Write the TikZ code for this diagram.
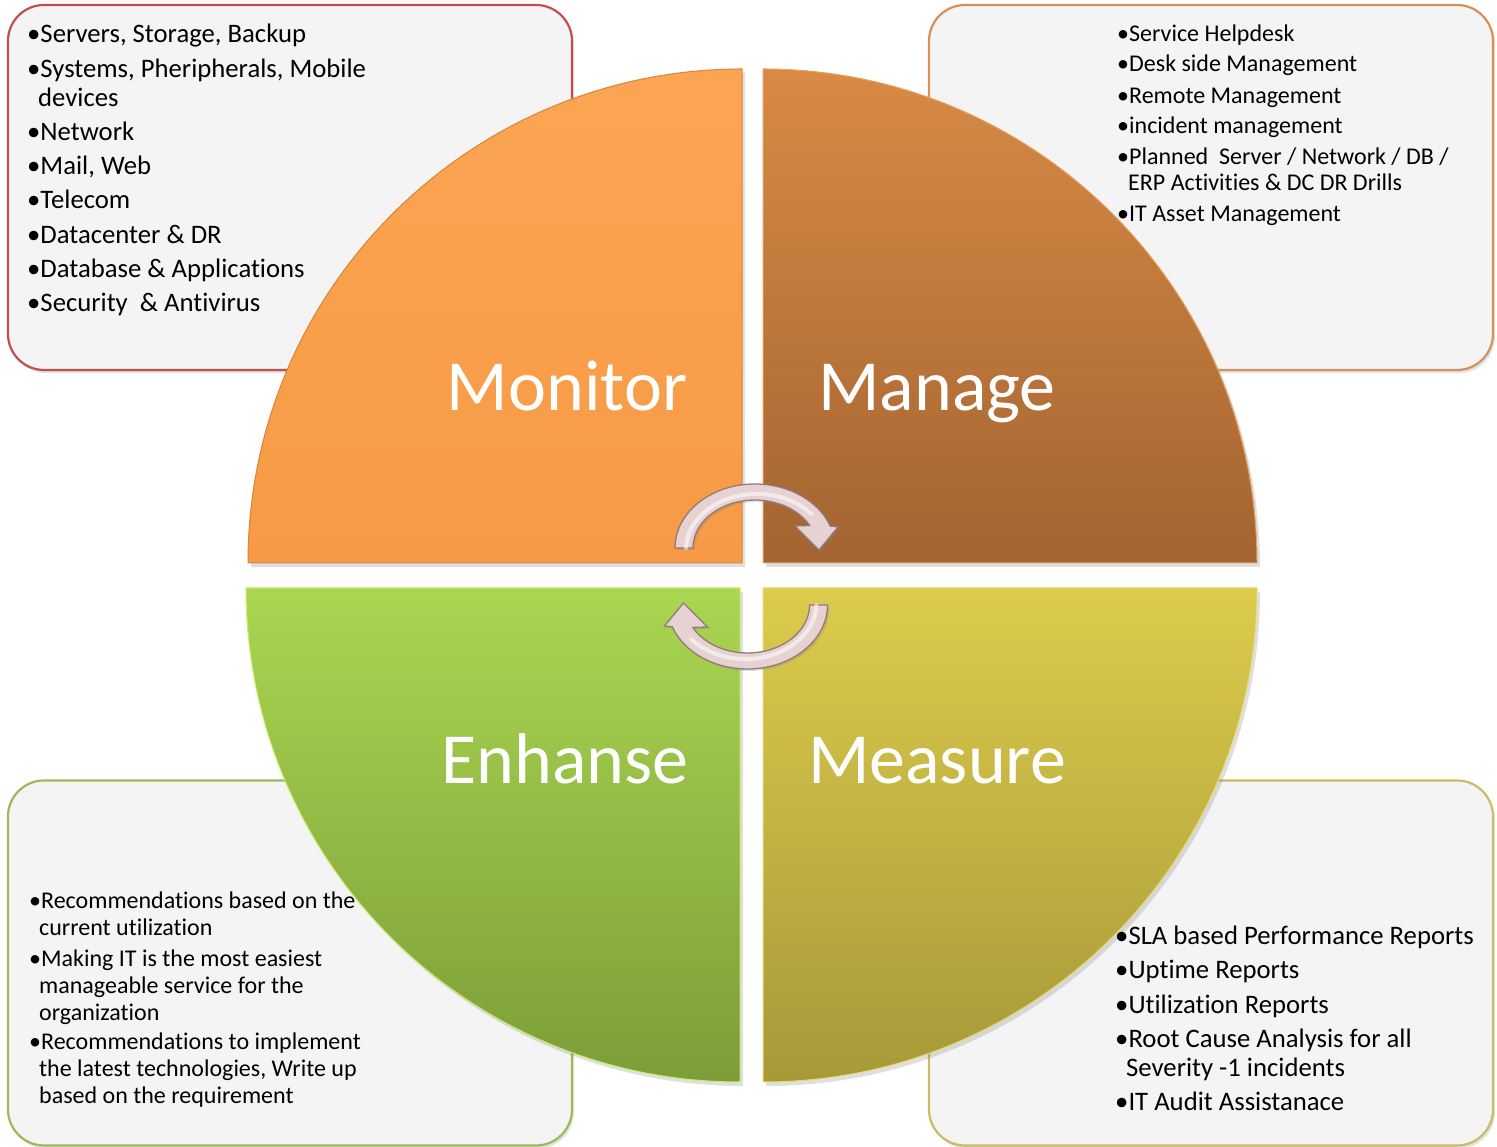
\documentclass[tikz,border=0pt]{standalone}
\usepackage{fontspec}
\setmainfont{Carlito}[Ligatures={NoCommon}]
\usetikzlibrary{shadows}
\definecolor{boxfill}{HTML}{F4F4F4}
\definecolor{bTL}{HTML}{C0504D}
\definecolor{bTR}{HTML}{D4915A}
\definecolor{bBL}{HTML}{9BBB59}
\definecolor{bBR}{HTML}{C9BC63}
\definecolor{monA}{HTML}{FBA553}
\definecolor{monB}{HTML}{F79A45}
\definecolor{monE}{HTML}{D9843A}
\definecolor{manA}{HTML}{D88A45}
\definecolor{manB}{HTML}{A36431}
\definecolor{manE}{HTML}{E8A060}
\definecolor{enhA}{HTML}{AAD651}
\definecolor{enhB}{HTML}{7C9D39}
\definecolor{enhE}{HTML}{C8EE70}
\definecolor{meaA}{HTML}{DCCB4C}
\definecolor{meaB}{HTML}{A69939}
\definecolor{meaE}{HTML}{E6DA70}
\definecolor{arrfill}{HTML}{E6D2D2}
\definecolor{arrdraw}{HTML}{957979}
\tikzset{
  boxst/.style={draw, line width=2.2pt, fill=boxfill, rounded corners=36pt,
    minimum width=564pt, minimum height=365pt, inner sep=0pt,
    drop shadow={shadow xshift=2pt, shadow yshift=-3pt, opacity=0.22}},
  quarter/.style={line width=1pt,
    drop shadow={shadow xshift=3pt, shadow yshift=-4pt, opacity=0.25}},
  bigl/.style={text=white, font=\fontsize{72}{78}\selectfont, anchor=base, inner sep=0pt},
  lA/.style={anchor=base west, inner sep=0pt, font=\fontsize{26.7}{29}\selectfont},
  lB/.style={anchor=base west, inner sep=0pt, font=\fontsize{24}{26}\selectfont},
  arr/.style={fill=arrfill, draw=arrdraw, line width=1.3pt,
    drop shadow={shadow xshift=2pt, shadow yshift=-2pt, opacity=0.25}},
  hl/.style={draw=white, opacity=0.55, line width=4pt, line cap=round}
}
\begin{document}
\begin{tikzpicture}[x=1pt,y=1pt]
\useasboundingbox (0,0) rectangle (1497,1147);
\fill[white] (0,0) rectangle (1497,1147);

% boxes
\node[boxst, draw=bTL] (tlbox) at (290,959.5) {};
\node[boxst, draw=bTR] (trbox) at (1211,959.5) {};
\node[boxst, draw=bBL] (blbox) at (290,184) {};
\node[boxst, draw=bBR] (brbox) at (1211,184) {};

% quarter circles
\path[quarter, draw=monE, top color=monA, bottom color=monB]
  (742,584) -- (248,584) arc[start angle=180, end angle=90, radius=494] -- cycle;
\path[quarter, draw=manE, top color=manA, bottom color=manB]
  (763,584) -- (763,1078) arc[start angle=90, end angle=0, radius=494] -- cycle;
\path[quarter, draw=enhE, top color=enhA, bottom color=enhB]
  (740,559) -- (246,559) arc[start angle=180, end angle=270, radius=494] -- cycle;
\path[quarter, draw=meaE, top color=meaA, bottom color=meaB]
  (763,559) -- (1257,559) arc[start angle=0, end angle=-90, radius=494] -- cycle;

% big labels
\node[bigl] (monitor) at (567,736) {Monitor};
\node[bigl] (manage) at (937,736) {Manage};
\node[bigl] (enhanse) at (565,363) {Enhanse};
\node[bigl] (measure) at (937,363) {Measure};

% circular arrows
\path[arr] (675,599) arc[start angle=180, end angle=20, x radius=80, y radius=64]
  -- (838,620) -- (819,597) -- (795,621) -- (809.7,621.5)
  arc[start angle=28, end angle=180, x radius=62, y radius=48] -- cycle;
\draw[hl] (686,599) arc[start angle=178, end angle=40, x radius=71, y radius=56];
\begin{scope}[rotate around={180:(751.25,570.5)}]
\path[arr] (675,599) arc[start angle=180, end angle=20, x radius=80, y radius=64]
  -- (838,620) -- (819,597) -- (795,621) -- (809.7,621.5)
  arc[start angle=28, end angle=180, x radius=62, y radius=48] -- cycle;
\draw[hl] (686,599) arc[start angle=178, end angle=40, x radius=71, y radius=56];
\end{scope}

% top-left list
\node[lA] (tl1) at (27,1104) {•Servers, Storage, Backup};
\node[lA] (tl2) at (27,1069) {•Systems, Pheripherals, Mobile};
\node[lA] (tl3) at (38,1040) {devices};
\node[lA] (tl4) at (27,1006) {•Network};
\node[lA] (tl5) at (27,972) {•Mail, Web};
\node[lA] (tl6) at (27,938) {•Telecom};
\node[lA] (tl7) at (27,903) {•Datacenter \& DR};
\node[lA] (tl8) at (27,869) {•Database \& Applications};
\node[lA] (tl9) at (27,835) {•Security \ \& Antivirus};

% top-right list
\node[lB] (tr1) at (1117,1105) {•Service Helpdesk};
\node[lB] (tr2) at (1117,1075) {•Desk side Management};
\node[lB] (tr3) at (1117,1043) {•Remote Management};
\node[lB] (tr4) at (1117,1013) {•incident management};
\node[lB] (tr5) at (1117,982) {•Planned \ Server / Network / DB /};
\node[lB] (tr6) at (1128,956) {ERP Activities \& DC DR Drills};
\node[lB] (tr7) at (1117,925) {•IT Asset Management};

% bottom-left list
\node[lB] (bl1) at (29,238) {•Recommendations based on the};
\node[lB] (bl2) at (39,211) {current utilization};
\node[lB] (bl3) at (29,180) {•Making IT is the most easiest};
\node[lB] (bl4) at (39,153) {manageable service for the};
\node[lB] (bl5) at (39,126) {organization};
\node[lB] (bl6) at (29,97) {•Recommendations to implement};
\node[lB] (bl7) at (39,70) {the latest technologies, Write up};
\node[lB] (bl8) at (39,43) {based on the requirement};

% bottom-right list
\node[lA] (br1) at (1115,202) {•SLA based Performance Reports};
\node[lA] (br2) at (1115,168) {•Uptime Reports};
\node[lA] (br3) at (1115,133) {•Utilization Reports};
\node[lA] (br4) at (1115,99) {•Root Cause Analysis for all};
\node[lA] (br5) at (1126,70) {Severity -1 incidents};
\node[lA] (br6) at (1115,36) {•IT Audit Assistanace};
\end{tikzpicture}
\end{document}
